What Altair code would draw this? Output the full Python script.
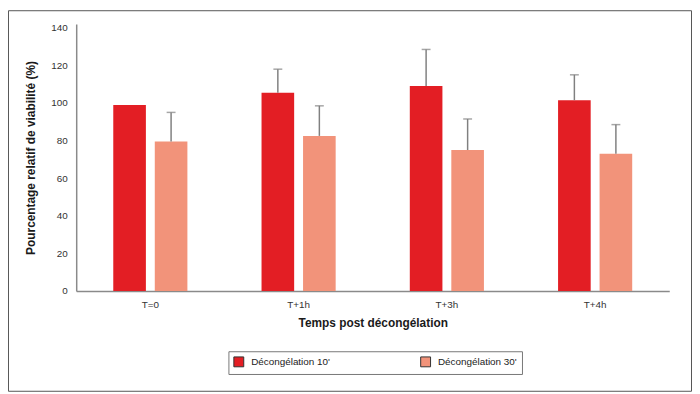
import altair as alt
import pandas as pd

times = ["T=0", "T+1h", "T+3h", "T+4h"]
groups = ["Décongélation 10'", "Décongélation 30'"]
v10 = [99, 105.5, 109, 101.5]
v30 = [79.5, 82.5, 75, 73]
err10 = [0, 12.5, 19.5, 13.5]
err30 = [15.5, 16, 16.5, 15.5]
yticks = [0, 20, 40, 60, 80, 100, 120, 140]

rows = []
for i, t in enumerate(times):
    rows.append({"t": t, "g": groups[0], "v": v10[i], "hi": v10[i] + err10[i], "e": err10[i]})
    rows.append({"t": t, "g": groups[1], "v": v30[i], "hi": v30[i] + err30[i], "e": err30[i]})
df = pd.DataFrame(rows)

FONT = "Liberation Sans"

xaxis = alt.Axis(title="Temps post décongélation", labelAngle=0, ticks=False,
                 labelPadding=9, titlePadding=8, domainColor="#8a8a8a",
                 domainWidth=1.5, labelFontSize=10, labelColor="#333",
                 titleFontSize=12, titleFontWeight="bold", titleColor="#1a1a1a",
                 labelFont=FONT, titleFont=FONT)
yaxis = alt.Axis(title="Pourcentage relatif de viabilité (%)", values=yticks,
                 grid=False, ticks=False, tickSize=0, labelPadding=9, titlePadding=14,
                 labelOverlap=False, labelFlush=False,
                 domainColor="#8a8a8a", domainWidth=1.5, labelFontSize=10,
                 labelColor="#333", titleFontSize=12, titleFontWeight="bold",
                 titleColor="#1a1a1a", labelFont=FONT, titleFont=FONT)
xscale = alt.Scale(paddingInner=0.5, paddingOuter=0.25)
yscale = alt.Scale(domain=[0, 142], nice=False)
xoscale = alt.Scale(paddingInner=0.2143, paddingOuter=0)

def X():
    return alt.X("t:N", sort=times, scale=xscale, axis=xaxis)

def XO():
    return alt.XOffset("g:N", sort=groups, scale=xoscale)

bars = alt.Chart(df).mark_bar().encode(
    x=X(), xOffset=XO(), y=alt.Y("v:Q", scale=yscale, axis=yaxis),
    color=alt.Color("g:N", sort=groups,
                    scale=alt.Scale(domain=groups, range=["#E31E24", "#F2937A"]),
                    legend=alt.Legend(title=None, orient="none", legendX=154, legendY=331,
                                      direction="horizontal", strokeColor="#777",
                                      fillColor="white", padding=5, symbolType="square",
                                      symbolSize=100, symbolStrokeColor="#333",
                                      symbolStrokeWidth=1, labelFontSize=10, labelFont=FONT,
                                      labelColor="#222", columnPadding=89, labelOffset=7)),
)

errdf = df[df["e"] > 0]
rules = alt.Chart(errdf).mark_rule(color="#808080", strokeWidth=1.5).encode(
    x=X(), xOffset=XO(),
    y=alt.Y("v:Q", scale=yscale, axis=yaxis), y2="hi:Q")
caps = alt.Chart(errdf).mark_tick(color="#808080", thickness=1.5, size=9, orient="horizontal").encode(
    x=X(), xOffset=XO(),
    y=alt.Y("hi:Q", scale=yscale, axis=yaxis))

frame = alt.Chart(alt.Data(values=[{"a": 1}])).mark_rect(
    fill=None, stroke="#555", strokeWidth=1, clip=False).encode(
    x=alt.value(-68.5), x2=alt.value(622.5), y=alt.value(-13.5), y2=alt.value(371.5))

chart = alt.layer(bars, rules, caps, frame).properties(
    width=600, height=270,
    autosize=alt.AutoSizeParams(type="none"),
    padding={"left": 69, "top": 14, "right": 23, "bottom": 102},
    background="white",
).configure_view(stroke=None)

chart.save("out.html", embed_options={"renderer": "svg", "actions": False})
